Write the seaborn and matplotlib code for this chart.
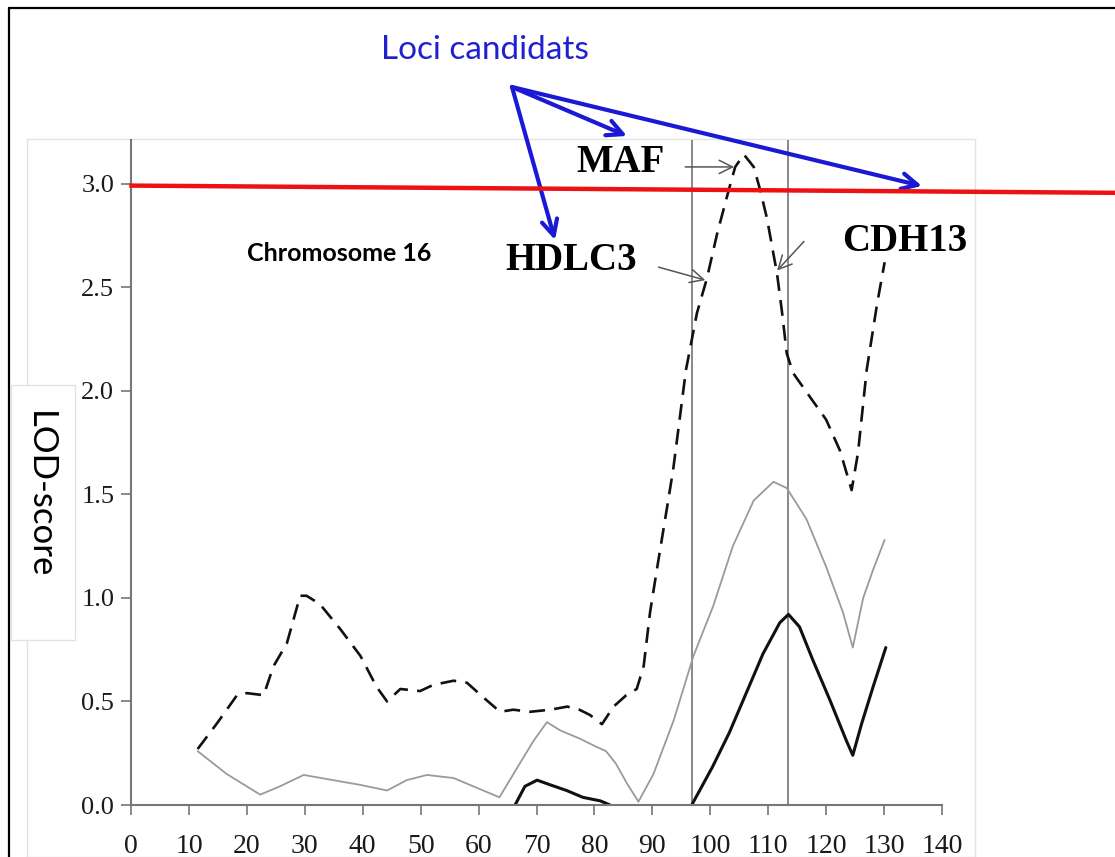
import numpy as np
import pandas as pd
import seaborn as sn
import matplotlib.pyplot as plt
from matplotlib.lines import Line2D
from matplotlib.patches import Rectangle

# chromosome 16 linkage scan (cM, LOD)
dashed_x = [11.5, 15, 18.3, 20, 22.9, 24.6, 26.9, 29.2, 30.3, 32.6, 36.1, 39.6, 42.4, 44.2, 46.5,
            49.9, 52.2, 55.7, 58, 60.8, 63.7, 66, 68.9, 72.4, 75.3, 77.4, 79.2, 81.3, 83.3, 85.5,
            87.3, 88.5, 89.6, 90.8, 92.5, 93.6, 95.8, 97.7, 99.4, 101.2, 103.2, 104.3, 105.8, 107.5,
            108.6, 109.8, 110.9, 111.5, 112.4, 113.2, 114.3, 117.2, 120, 122.4, 124.4, 125.5, 127,
            128.8, 130.1]
dashed_y = [0.27, 0.40, 0.53, 0.54, 0.53, 0.67, 0.78, 1.01, 1.01, 0.97, 0.85, 0.72, 0.57, 0.50, 0.56,
            0.55, 0.58, 0.60, 0.59, 0.52, 0.45, 0.46, 0.45, 0.46, 0.475, 0.46, 0.435, 0.39, 0.475, 0.53,
            0.56, 0.67, 0.93, 1.14, 1.43, 1.62, 2.10, 2.375, 2.54, 2.76, 2.97, 3.08, 3.14, 3.08,
            2.97, 2.83, 2.66, 2.57, 2.375, 2.18, 2.085, 1.97, 1.86, 1.71, 1.52, 1.70, 2.10,
            2.42, 2.62]

gray_x = [11.5, 16.5, 22.3, 25.7, 29.8, 34.9, 39.6, 44.2, 47.6, 51.1, 55.7, 59.1, 63.6, 67.1, 69.5,
          71.8, 74.1, 77.5, 80.4, 82, 83.7, 85.6, 87.6, 90.2, 93.7, 97.1, 100.5, 103.9, 107.5, 110.9,
          113.2, 116.6, 120, 122.9, 124.6, 126.4, 128.1, 130.1]
gray_y = [0.26, 0.15, 0.05, 0.09, 0.145, 0.12, 0.097, 0.07, 0.12, 0.145, 0.13, 0.09, 0.037, 0.20, 0.31,
          0.40, 0.36, 0.32, 0.28, 0.26, 0.20, 0.105, 0.016, 0.15, 0.41, 0.72, 0.96, 1.25, 1.47, 1.56,
          1.53, 1.38, 1.15, 0.93, 0.76, 1.0, 1.135, 1.28]

solid1_x = [66.3, 68, 70.1, 72.4, 75.2, 78, 81, 82.7]
solid1_y = [0, 0.09, 0.12, 0.097, 0.07, 0.037, 0.02, 0.0]
solid2_x = [96.8, 100.4, 103.3, 106.2, 109.1, 112, 113.5, 115.4, 117.7, 120.6, 123.5, 124.6, 126.1,
            128.1, 130.3]
solid2_y = [0, 0.185, 0.35, 0.54, 0.73, 0.88, 0.92, 0.86, 0.70, 0.51, 0.31, 0.24, 0.39, 0.57, 0.76]

marker_lines = [96.8, 113.4]
threshold = 3.0
x_ticks = list(range(0, 150, 10))
y_ticks = [0.0, 0.5, 1.0, 1.5, 2.0, 2.5, 3.0]
genes = ['MAF', 'HDLC3', 'CDH13']

sn.set_style('white')
plt.rcParams['font.family'] = ['Liberation Serif', 'DejaVu Sans']

W, H = 1115, 857
fig = plt.figure(figsize=(W / 100, H / 100), dpi=100)
fig.patch.set_facecolor('white')

# slide background bits: outer frame, pasted picture edge, label box
fig.add_artist(Rectangle((27 / W, 0), (975 - 27) / W, (857 - 139) / H, transform=fig.transFigure,
                         facecolor='white', edgecolor='#e2e2e2', lw=1, zorder=0))
fig.add_artist(Line2D([9 / W, 9 / W], [0, 1 - 8 / H], transform=fig.transFigure, color='black', lw=1.6))
fig.add_artist(Line2D([9 / W, 1], [1 - 8 / H, 1 - 8 / H], transform=fig.transFigure, color='black', lw=1.6))

ax = fig.add_axes([131 / W, 52 / H, (942 - 131) / W, (805 - 140) / H])
ax.patch.set_alpha(0)

solid = pd.DataFrame({'x': solid1_x + solid2_x, 'y': solid1_y + solid2_y,
                      'seg': [1] * len(solid1_x) + [2] * len(solid2_x)})

sn.lineplot(x=gray_x, y=gray_y, ax=ax, color='#9a9a9a', lw=1.3, estimator=None)
sn.lineplot(data=solid, x='x', y='y', units='seg', estimator=None, ax=ax, color='#111111', lw=2.2)
sn.lineplot(x=dashed_x, y=dashed_y, ax=ax, color='#111111', lw=1.9, estimator=None,
            dashes=False).lines[-1].set_dashes([6, 3.5])

for v in marker_lines:
    ax.axvline(v, color='#808080', lw=1.3, zorder=1)

ax.set_xlim(0, 140)
ax.set_ylim(0, 3.21)
ax.set_xticks(x_ticks)
ax.set_yticks(y_ticks)
ax.set_xticklabels([str(t) for t in x_ticks], fontsize=20, color='#1a1a1a')
ax.set_yticklabels([f'{t:.1f}' for t in y_ticks], fontsize=19, color='#1a1a1a')
ax.tick_params(axis='x', direction='out', length=7, width=1.2, color='#777777', pad=14)
ax.tick_params(axis='y', direction='out', length=7, width=1.2, color='#777777', pad=5)
ax.tick_params(bottom=True, left=True)
for s in ['top', 'right']:
    ax.spines[s].set_visible(False)
for s in ['left', 'bottom']:
    ax.spines[s].set_color('#777777')
    ax.spines[s].set_linewidth(1.5)
ax.set_xlabel('')
ax.set_ylabel('')

# threshold line runs past the plot to the slide edge
ax.plot([-0.3, 170], [threshold - 0.01, threshold - 0.045], color='#ee1111', lw=3.2, clip_on=False,
        solid_capstyle='butt', zorder=5)

# gene labels with thin pointers
gene_pos = {'MAF': (84.5, 3.10), 'HDLC3': (76, 2.63), 'CDH13': (133.5, 2.72)}
gene_tip = {'MAF': (104.6, 3.08), 'HDLC3': (99.6, 2.53), 'CDH13': (111.2, 2.57)}
gene_tail = {'MAF': (95.2, 3.08), 'HDLC3': (90.6, 2.60), 'CDH13': (116.5, 2.73)}
for g in genes:
    ax.text(*gene_pos[g], g, fontsize=28, fontweight='bold', ha='center', va='center',
            color='black', family=['Liberation Serif'])
    ax.annotate('', xy=gene_tip[g], xytext=gene_tail[g],
                arrowprops=dict(arrowstyle='->', color='#555555', lw=1.1, mutation_scale=24))

ax.text(36, 2.66, 'Chromosome 16', fontsize=18, fontweight='bold', ha='center', va='center',
        color='black', family=['Lato', 'DejaVu Sans'])

# y label on its own little white box
fig.add_artist(Rectangle((11 / W, 1 - 640 / H), 64 / W, 255 / H, transform=fig.transFigure,
                         facecolor='white', edgecolor='#e2e2e2', lw=1, zorder=2))
fig.text(40 / W, 1 - 495 / H, 'LOD-score', rotation=270, fontsize=25, ha='center', va='center',
         color='black', family=['Lato', 'DejaVu Sans'], zorder=3)

# candidate loci callout
fig.text(485 / W, 1 - 50 / H, 'Loci candidats', fontsize=24, color='#2020d0', ha='center',
         va='center', family=['Lato', 'DejaVu Sans'])
origin = (512, H - 87)
for tip in [(627, H - 136), (555, H - 240), (922, H - 186)]:
    ax.annotate('', xy=tip, xytext=origin, xycoords='figure pixels', textcoords='figure pixels',
                annotation_clip=False,
                arrowprops=dict(arrowstyle='->', color='#1a1ad6', lw=3, mutation_scale=28,
                                shrinkA=0, shrinkB=0))

plt.savefig('out.png', dpi=100)
